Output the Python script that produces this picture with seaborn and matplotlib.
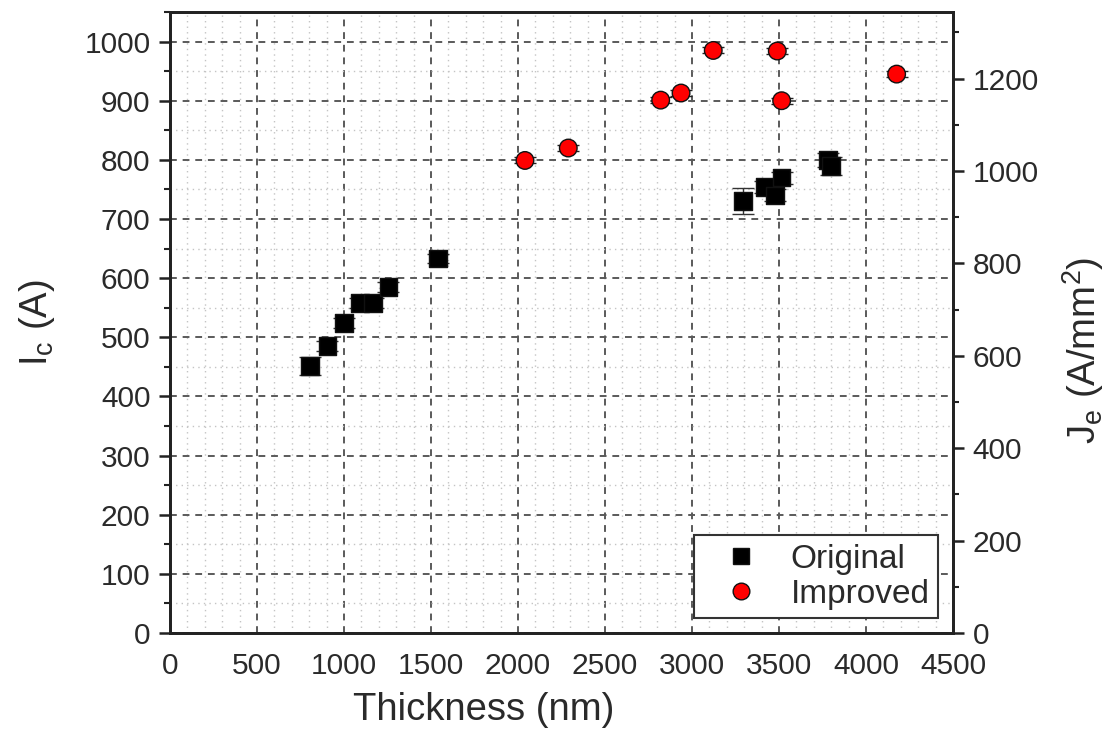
import matplotlib
matplotlib.use("Agg")
import matplotlib.pyplot as plt
from matplotlib.ticker import MultipleLocator
import seaborn as sns
import pandas as pd
import numpy as np

# ---- data ----
orig_thickness = [805, 904, 1000, 1092, 1168, 1255, 1540, 3294, 3419, 3477, 3515, 3780, 3800]
orig_ic = [451, 485, 524, 558, 558, 585, 633, 730, 754, 740, 770, 800, 790]
orig_err = [15, 8, 8, 8, 8, 8, 8, 22, 10, 10, 10, 12, 15]

impr_thickness = [2040, 2289, 2820, 2937, 3122, 3490, 3515, 4176]
impr_ic = [799, 820, 901, 913, 985, 984, 900, 945]
impr_err = [5, 5, 5, 5, 5, 5, 5, 5]

je_per_ic = 1.28  # ratio between right (Je) and left (Ic) axes

df = pd.DataFrame({
    "Thickness": orig_thickness + impr_thickness,
    "Ic": orig_ic + impr_ic,
    "err": orig_err + impr_err,
    "Sample": ["Original"] * len(orig_thickness) + ["Improved"] * len(impr_thickness),
})

sns.set_theme(style="white")
plt.rcParams["font.family"] = ["Liberation Sans", "DejaVu Sans"]
plt.rcParams["mathtext.fontset"] = "custom"
plt.rcParams["mathtext.rm"] = "Liberation Sans"

fig = plt.figure(figsize=(11.14, 7.5), dpi=100)
ax = fig.add_axes([0.1526, 0.156, 0.7029, 0.828])

txt = "#2a2a2a"

# grid
ax.xaxis.set_major_locator(MultipleLocator(500))
ax.xaxis.set_minor_locator(MultipleLocator(100))
ax.yaxis.set_major_locator(MultipleLocator(100))
ax.yaxis.set_minor_locator(MultipleLocator(50))
ax.grid(which="major", color="#5a5a5a", linestyle=(0, (3.5, 3)), linewidth=1.4)
ax.grid(which="minor", color="#c4c4c4", linestyle=(0, (1, 3)), linewidth=1.0)
ax.set_axisbelow(True)

# error bars
for name, col in [("Original", "#333333"), ("Improved", "#222222")]:
    sub = df[df["Sample"] == name]
    ax.errorbar(sub["Thickness"], sub["Ic"], yerr=sub["err"], fmt="none",
                ecolor=col, elinewidth=1.0, capsize=8, capthick=1.0, zorder=2)

sns.scatterplot(data=df, x="Thickness", y="Ic", hue="Sample", style="Sample",
                palette={"Original": "black", "Improved": "#ff0000"},
                markers={"Original": "s", "Improved": "o"},
                s=160, edgecolor="#111111", linewidth=1.0, ax=ax, zorder=3,
                legend=True)

ax.set_xlim(0, 4500)
ax.set_ylim(0, 1050)
ax.set_xlabel("Thickness (nm)", fontsize=27.5, color=txt, labelpad=8)
ax.xaxis.set_label_coords(0.40, -0.095)
ax.set_ylabel(r"I$_\mathregular{c}$ (A)", fontsize=27.5, color=txt, labelpad=20)

ax.tick_params(axis="both", which="major", direction="out", length=8, width=1.8,
               labelsize=21.5, labelcolor=txt, color="#222222", pad=6)
ax.tick_params(axis="both", which="minor", direction="out", length=4.5, width=1.5,
               color="#222222")
ax.tick_params(axis="x", top=False)

for sp in ax.spines.values():
    sp.set_linewidth(2.0)
    sp.set_color("#222222")

# right axis
ax2 = ax.twinx()
ax2.set_ylim(0, 1050 * je_per_ic)
ax2.yaxis.set_major_locator(MultipleLocator(200))
ax2.yaxis.set_minor_locator(MultipleLocator(100))
ax2.tick_params(axis="y", which="major", direction="out", length=8, width=1.8,
                labelsize=21.5, labelcolor=txt, color="#222222", pad=6)
ax2.tick_params(axis="y", which="minor", direction="out", length=4.5, width=1.5,
                color="#222222")
ax2.set_ylabel(r"J$_\mathregular{e}$ (A/mm$^\mathregular{2}$)", fontsize=27.5,
               color=txt, labelpad=14)
ax2.yaxis.set_label_coords(1.137, 0.455)
for sp in ax2.spines.values():
    sp.set_linewidth(2.0)
    sp.set_color("#222222")

# legend
handles, labels = ax.get_legend_handles_labels()
for h in handles:
    try:
        h.set_markersize(12)
        h.set_markeredgecolor("#111111")
    except Exception:
        pass
leg = ax.legend(handles, labels, loc="lower right", fontsize=24, frameon=True,
                fancybox=False, edgecolor="#333333", framealpha=1,
                borderaxespad=0.45, handletextpad=0.35, borderpad=0.25,
                labelspacing=0.12, handlelength=2.3, markerscale=1.0)
leg.get_frame().set_linewidth(1.5)
for t in leg.get_texts():
    t.set_color(txt)

fig.savefig("out.png", dpi=100)
